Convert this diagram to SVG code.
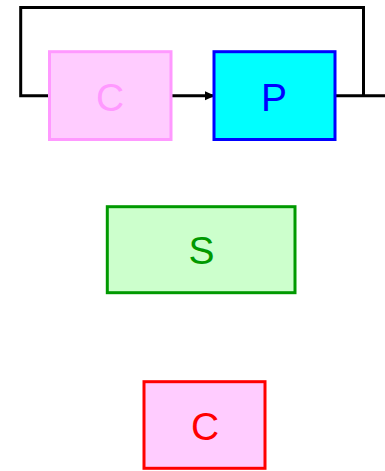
<svg xmlns="http://www.w3.org/2000/svg" width="385" height="471" viewBox="0 0 385 471">
  <style>
    .lbl { font-family: "Liberation Sans", Arial, sans-serif; font-size: 39px; text-anchor: middle; }
    .box { stroke-width: 3; }
    .wire { fill: none; stroke: #000; stroke-width: 3; stroke-linejoin: miter; }
  </style>
  <defs>
    <marker id="arrow" markerWidth="10" markerHeight="10" refX="9" refY="5" orient="auto" markerUnits="userSpaceOnUse">
      <path d="M0,0.5 L10,5 L0,9.5 Z" fill="#000"/>
    </marker>
  </defs>
  <rect width="385" height="471" fill="#fff"/>
  <g id="connectors">
    <path class="wire" d="M49.5,95.7 H20.7 V7.5 H363.5 V95.7"/>
    <path class="wire" d="M171,95.7 H214" marker-end="url(#arrow)"/>
    <path class="wire" d="M335,95.7 H385"/>
  </g>
  <g id="node-c-loop">
    <rect class="box" x="49.5" y="51.7" width="121.5" height="87.8" fill="#ffccff" stroke="#ff99ff"/>
    <text class="lbl" x="110" y="111" fill="#ff99ff">C</text>
  </g>
  <g id="node-p">
    <rect class="box" x="214" y="51.7" width="121" height="87.8" fill="#00ffff" stroke="#0000ff"/>
    <text class="lbl" x="274" y="111" fill="#0000ff">P</text>
  </g>
  <g id="node-s">
    <rect class="box" x="107.3" y="206.7" width="187.7" height="86" fill="#ccffcc" stroke="#009900"/>
    <text class="lbl" x="201.5" y="264" fill="#009900">S</text>
  </g>
  <g id="node-c">
    <rect class="box" x="144" y="381.7" width="121" height="86.6" fill="#ffccff" stroke="#ff0000"/>
    <text class="lbl" x="205" y="440" fill="#ff0000">C</text>
  </g>
</svg>
